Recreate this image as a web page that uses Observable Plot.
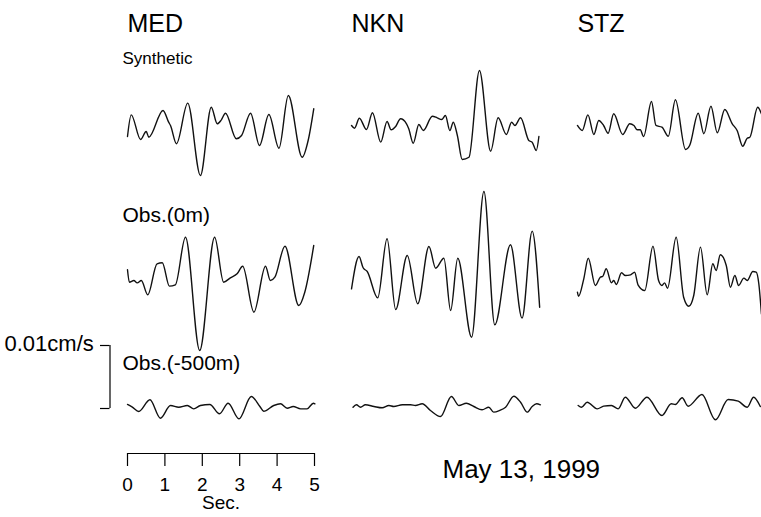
<!DOCTYPE html>
<html><head><meta charset="utf-8">
<script src="https://cdn.jsdelivr.net/npm/d3@7"></script>
<script src="https://cdn.jsdelivr.net/npm/@observablehq/plot@0.6"></script>
<style>html,body{margin:0;padding:0;background:#fff}</style>
</head><body><div id="chart"></div>
<script>
// ---------------- data ----------------
const stations = ["MED", "NKN", "STZ"];
const components = ["Synthetic", "Obs.(0m)", "Obs.(-500m)"];
const timeTicks = [0, 1, 2, 3, 4, 5];
const scaleBarValue = 10; // 0.01 cm/s in units of 0.001 cm/s
const scaleBarLabel = "0.01cm/s";
const timeLabel = "Sec.";
const dateLabel = "May 13, 1999";

// time (s) and ground velocity (0.001 cm/s)
const medSynT = [0,0.10,0.35,0.50,0.57,0.95,1.10,1.15,1.31,1.61,1.95,2.24,2.40,2.51,2.62,2.91,3.05,3.29,3.53,3.78,4.05,4.30,4.67,4.83,4.98];
const medSynV = [-1.27,2.17,-1.75,-0.48,-1.38,2.86,1.00,0.48,-2.43,4.02,-7.46,3.38,0.75,1.38,2.43,-1.63,-1.11,2.43,-2.70,2.22,-3.13,5.24,-4.56,-1.90,3.13];

const nknSynT = [0,0.08,0.21,0.40,0.56,0.78,0.95,1.06,1.18,1.31,1.47,1.53,1.65,1.80,1.92,2.16,2.29,2.41,2.51,2.63,2.72,2.83,2.96,3.14,3.42,3.72,3.92,4.14,4.28,4.37,4.52,4.74,4.83,4.94,5.01];
const nknSynV = [0.48,0.05,1.63,-0.16,2.49,-2.17,1.11,-0.21,0.32,1.54,0.75,-0.05,-2.33,0.63,-0.32,1.95,1.70,1.43,2.06,-0.32,1.00,-1.11,-4.92,-4.56,9.21,-3.60,1.70,-0.95,1.00,0.48,1.70,-1.90,-2.17,-3.49,-1.27];

const stzSynT = [0,0.13,0.28,0.44,0.57,0.70,0.82,0.97,1.21,1.40,1.51,1.60,1.68,1.77,1.98,2.10,2.26,2.43,2.62,2.89,3.00,3.23,3.38,3.57,3.74,3.94,4.14,4.27,4.42,4.54,4.61,4.82,4.92];
const stzSynV = [0.48,-0.32,2.17,-0.95,1.27,0.48,-0.75,2.33,-0.95,0.75,0.48,-0.21,-0.21,-1.27,4.29,0.48,0.21,-1.22,4.56,-3.33,-2.70,2.43,-0.84,3.54,-0.68,3.02,0.75,-0.32,-2.81,-1.54,-1.38,3.38,2.33];

const medObsT = [0,0.05,0.17,0.26,0.37,0.54,0.79,0.93,1.12,1.28,1.55,1.93,2.33,2.57,2.75,2.93,3.08,3.38,3.69,3.82,3.94,4.21,4.58,4.74,4.98];
const medObsV = [1.70,-0.27,0,-0.37,0,-2.27,2.65,2.81,-0.90,-0.68,6.87,-11.11,6.87,-0.27,0.43,1.06,2.27,-5.03,2.27,0,0.52,5.44,-3.97,-1.86,5.56];

const nknObsT = [0,0.20,0.31,0.42,0.70,0.95,1.18,1.49,1.77,2.07,2.25,2.47,2.65,2.84,3.21,3.54,3.83,4.25,4.56,4.83,5.03];
const nknObsV = [-1.32,3.81,2.02,1.43,-2.75,6.62,-4.60,3.97,-3.70,5.40,1.95,3.54,-4.76,3.54,-9.00,14.13,-7.03,5.67,-5.98,7.83,-4.24];

const stzObsT = [0,0.03,0.17,0.29,0.48,0.61,0.68,0.77,0.91,0.97,1.04,1.18,1.28,1.42,1.53,1.62,1.80,2.02,2.17,2.26,2.33,2.41,2.64,2.84,2.98,3.11,3.29,3.47,3.62,3.71,3.82,3.98,4.09,4.21,4.31,4.45,4.54,4.69,4.78,4.85,4.92];
const stzObsV = [-1.86,-2.49,0.27,3.54,-0.79,0.52,0.68,1.86,-0.37,0,-0.63,1.22,0.79,0.90,1.32,-0.68,-1.59,5.44,0,-0.79,-0.37,-1.22,6.87,-2.65,-4.08,-2.38,5.29,-2.27,2.65,1.59,4.08,2.38,-1.06,0.79,-0.79,0.37,0,1.43,1.32,-0.52,-5.29];

const medDeepT = [0,0.13,0.30,0.60,0.88,1.15,1.37,1.60,1.77,1.95,2.20,2.46,2.69,2.98,3.31,3.54,3.64,3.91,4.09,4.27,4.43,4.63,4.80,4.97,5.01];
const medDeepV = [0.32,-0.11,-0.79,1.06,-1.86,0.16,-0.11,0.16,-0.37,0.16,0.32,-1.16,0.52,-1.95,1.59,0,-0.75,0.16,0.43,-0.27,0,-0.37,-0.37,0.52,0.43];

const nknDeepT = [0.04,0.13,0.24,0.37,0.60,0.82,1.00,1.13,1.36,1.58,1.71,1.89,2.11,2.38,2.67,2.87,3.07,3.27,3.49,3.67,3.80,3.96,4.12,4.34,4.52,4.70,4.83,4.95,5.05];
const nknDeepV = [-0.11,0.27,-0.11,0.27,0,-0.21,0.16,0,0.27,0.27,0.16,0.43,-0.63,-1.59,1.59,0.16,0.52,0,-0.52,-0.11,-0.90,-0.63,-0.11,1.63,0.68,-0.90,0,0.43,0.27];

const stzDeepT = [0.02,0.11,0.26,0.53,0.70,0.91,1.09,1.28,1.55,1.86,2.26,2.51,2.62,2.80,2.96,3.33,3.69,4.03,4.30,4.54,4.71,4.89];
const stzDeepV = [0.16,-0.11,0.68,-0.37,0.05,0.16,-0.37,1.48,-0.27,1.48,-1.43,0.43,0.32,1.38,0.05,1.90,-2.11,1.11,0.84,-0.11,1.48,0];

const traceT = [[medSynT, nknSynT, stzSynT], [medObsT, nknObsT, stzObsT], [medDeepT, nknDeepT, stzDeepT]];
const traceV = [[medSynV, nknSynV, stzSynV], [medObsV, nknObsV, stzObsV], [medDeepV, nknDeepV, stzDeepV]];

// ---------------- layout ----------------
const W = 761, H = 517;
const X0 = 127;        // px of t = 0 in first column
const PXS = 37.4;      // px per second
const PXV = 6.3;       // px per 0.001 cm/s
const colShift = [0, 5.99, 12.03];         // seconds between column origins
const rowBasePx = [128, 280, 406];         // baselines of the three rows (px)
const px2x = px => (px - X0) / PXS;
const px2y = py => -py / PXV;

const rows = [];
components.forEach((comp, r) => {
  stations.forEach((st, c) => {
    const T = traceT[r][c], V = traceV[r][c];
    T.forEach((t, i) => rows.push({
      key: st + "|" + comp,
      x: t + colShift[c],
      y: V[i] + px2y(rowBasePx[r])
    }));
  });
});

const FONT = "'Liberation Sans', Arial, Helvetica, sans-serif";
const stationLabels = stations.map((s, c) => ({text: s, x: colShift[c] + px2x(X0), y: px2y(31)}));
const compLabelBase = [63, 221, 369];
const compLabelSize = [17, 21, 21];
const compLabels = components.map((s, r) => ({text: s, x: px2x(122), y: px2y(compLabelBase[r]), size: compLabelSize[r]}));

// scale bar (vertical)
const barBottom = px2y(408);
const barX = px2x(109.5), barXl = px2x(100);
// time bar
const tbarY = px2y(453), tickEnd = px2y(466);

const plot = Plot.plot({
  width: W, height: H,
  marginTop: 0, marginRight: 0, marginBottom: 0, marginLeft: 0,
  x: {domain: [px2x(0), px2x(W)], axis: null},
  y: {domain: [px2y(H), px2y(0)], axis: null},
  style: {fontFamily: FONT, background: "#fff", overflow: "hidden"},
  marks: [
    Plot.line(rows, {x: "x", y: "y", z: "key", curve: "monotone-x", stroke: "#111", strokeWidth: 1.4}),
    // station headers
    Plot.text(stationLabels, {x: "x", y: "y", text: "text", textAnchor: "start", lineAnchor: "bottom", fontSize: 25, fill: "#000"}),
    // component labels
    Plot.text(compLabels, {x: "x", y: "y", text: "text", textAnchor: "start", lineAnchor: "bottom", fontSize: d => d.size, fill: "#000"}),
    // amplitude scale bar
    Plot.ruleX([barX], {y1: barBottom, y2: barBottom + scaleBarValue, stroke: "#000", strokeWidth: 1.2}),
    Plot.ruleY([barBottom, barBottom + scaleBarValue], {x1: barXl, x2: barX, stroke: "#000", strokeWidth: 1.2}),
    Plot.text([scaleBarLabel], {x: px2x(4), y: px2y(350), text: d => d, textAnchor: "start", lineAnchor: "bottom", fontSize: 22, fill: "#000"}),
    // time scale bar
    Plot.ruleY([tbarY], {x1: timeTicks[0], x2: timeTicks[timeTicks.length - 1], stroke: "#000", strokeWidth: 1.2}),
    Plot.ruleX(timeTicks, {y1: tickEnd, y2: tbarY, stroke: "#000", strokeWidth: 1.2}),
    Plot.text(timeTicks, {x: d => d, y: px2y(490), text: d => String(d), lineAnchor: "bottom", fontSize: 19, fill: "#000"}),
    Plot.text([timeLabel], {x: d3.mean(timeTicks.slice(2, 4)), y: px2y(508), text: d => d, lineAnchor: "bottom", fontSize: 19, fill: "#000"}),
    // date
    Plot.text([dateLabel], {x: px2x(442), y: px2y(477), text: d => d, textAnchor: "start", lineAnchor: "bottom", fontSize: 26, fill: "#000"})
  ]
});
document.getElementById("chart").appendChild(plot);
</script>
</body></html>
